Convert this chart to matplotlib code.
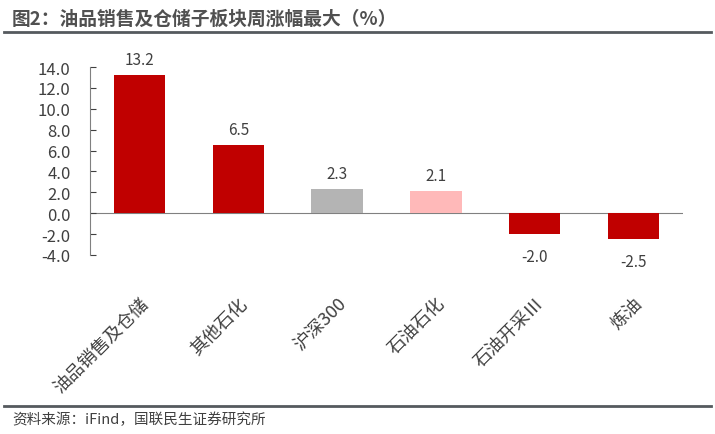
import numpy as np
import matplotlib.pyplot as plt
from matplotlib.ticker import MultipleLocator

plt.rcParams['font.family'] = ['Noto Sans CJK SC', 'DejaVu Sans']

categories = ['油品销售及仓储', '其他石化', '沪深300', '石油石化', '石油开采Ⅲ', '炼油']
values = [13.2, 6.5, 2.3, 2.1, -2.0, -2.5]
colors = ['#C00000', '#C00000', '#B4B4B4', '#FFB9B9', '#C00000', '#C00000']

fig = plt.figure(figsize=(7.15, 4.35), dpi=100)
ax = fig.add_axes([0.126, 0.4115, 0.829, 0.432])
x = np.arange(len(categories))
ax.bar(x, values, width=0.52, color=colors, zorder=2)
for xi, v in zip(x, values):
    # labels above positive bars, below negative bars
    if v >= 0:
        ax.text(xi, v + 0.7, f'{v:.1f}', ha='center', va='bottom', fontsize=11, color='#404040')
    else:
        ax.text(xi, v - 1.3, f'{v:.1f}', ha='center', va='top', fontsize=11, color='#404040')
ax.axhline(0, color='#808080', linewidth=0.8, zorder=1)
ax.set_xlim(-0.5, len(categories) - 0.5)
ax.set_ylim(-4, 14)
ax.yaxis.set_major_locator(MultipleLocator(2))
ax.set_yticks(np.arange(-4, 15, 2))
ax.set_yticklabels([f'{t:.1f}' for t in np.arange(-4, 15, 2)])
ax.set_xticks(x)
ax.set_xticklabels(categories, rotation=45, ha='right', rotation_mode='anchor')
ax.tick_params(axis='y', direction='in', labelsize=12, colors='#404040', length=4, pad=14)
ax.tick_params(axis='x', length=0, labelsize=13, colors='#404040', pad=28)
for side in ['top', 'right', 'bottom']:
    ax.spines[side].set_visible(False)
ax.spines['left'].set_color('#808080')

fig.text(0.017, 0.955, '图2：油品销售及仓储子板块周涨幅最大（%）', fontsize=13.5, fontweight='bold',
         color='#505050', va='center')
fig.add_artist(plt.Line2D([0.005, 0.995], [0.925, 0.925], color='#555a5e', linewidth=2))
fig.add_artist(plt.Line2D([0.005, 0.995], [0.064, 0.064], color='#555a5e', linewidth=2))
fig.text(0.017, 0.035, '资料来源：iFind，国联民生证券研究所', fontsize=10.5, color='#404040', va='center')
plt.savefig('out.png')
